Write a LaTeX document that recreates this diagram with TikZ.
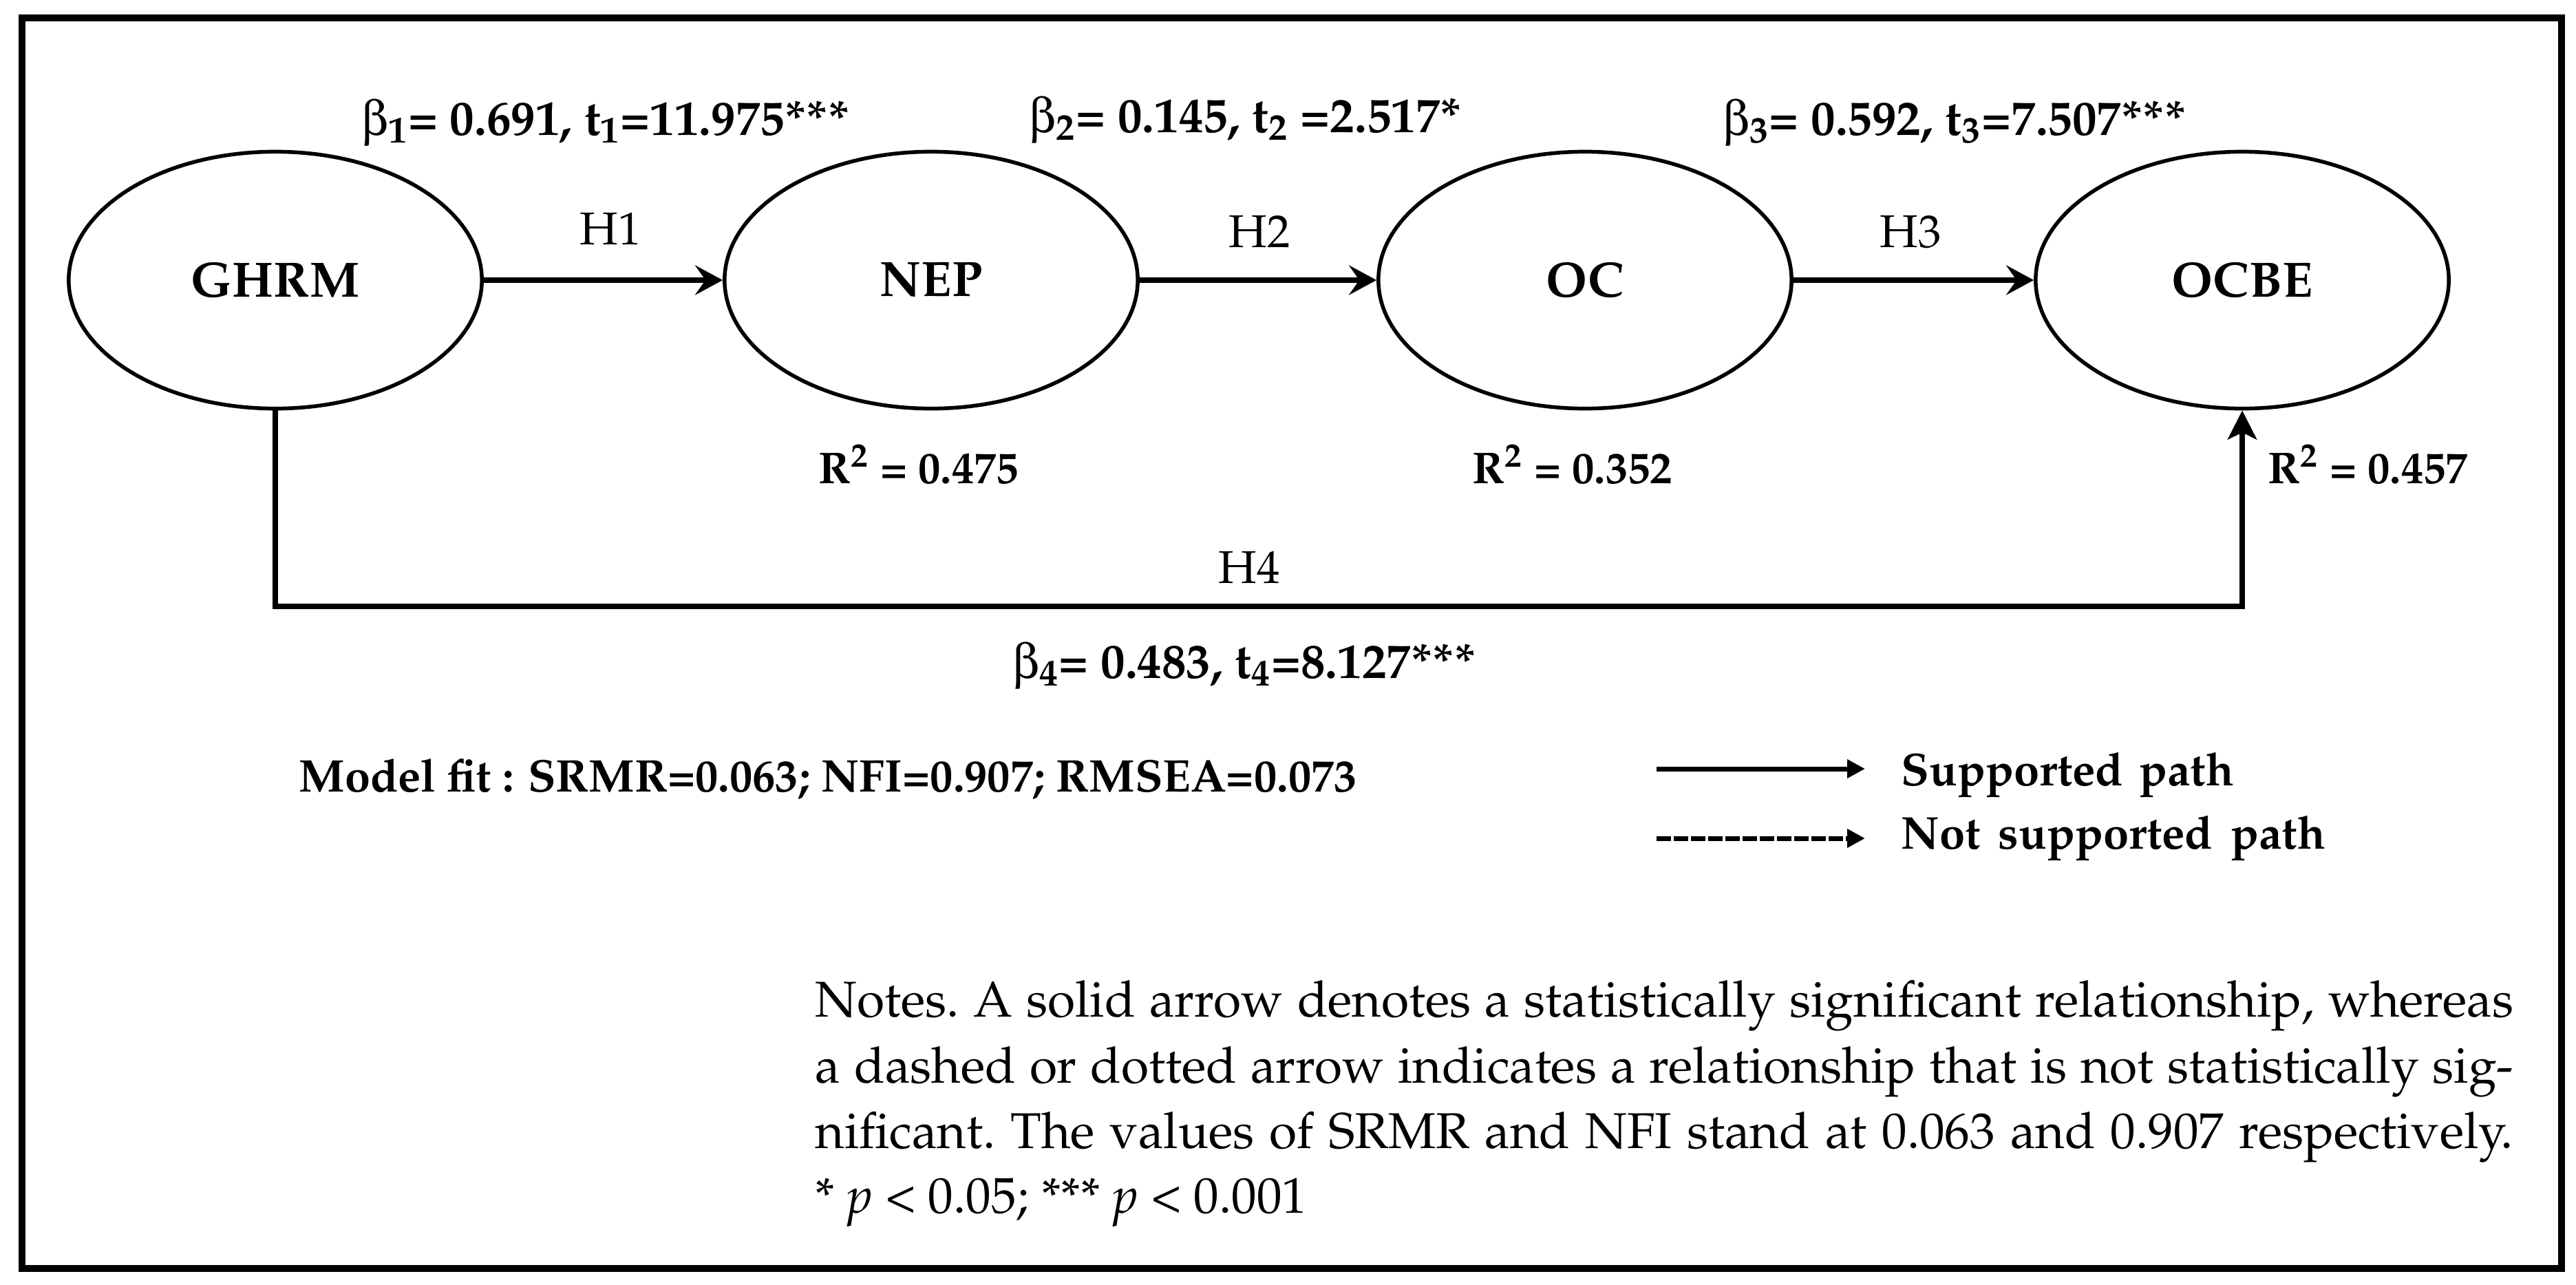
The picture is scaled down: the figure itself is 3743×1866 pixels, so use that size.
\documentclass[tikz,border=0pt]{standalone}
\usepackage[T1]{fontenc}
\usepackage{mathpazo}
\usepackage{pifont}
\usetikzlibrary{arrows.meta,shapes.geometric}
\newcommand\setfs[1]{\fontsize{#1pt}{#1pt}\selectfont}
\newcommand\bet{{\Pisymbol{psy}{98}}}
\tikzset{
  latent/.style={ellipse, draw, line width=0.055cm, minimum width=6cm, minimum height=3.73cm, inner sep=0pt, font=\setfs{20.5}\bfseries},
  conn/.style={line width=0.08cm, -{Stealth[length=0.4cm,width=0.43cm,inset=0.15cm]}},
  hfour/.style={line width=0.075cm, line join=miter, -{Stealth[length=0.42cm,width=0.42cm,inset=0.1cm]}},
  coef/.style={inner sep=0pt, anchor=base, font=\setfs{20.2}\bfseries},
  hyp/.style={inner sep=0pt, anchor=base, font=\setfs{19}},
  rsq/.style={inner sep=0pt, anchor=base, font=\setfs{18.4}\bfseries},
  fitst/.style={inner sep=0pt, anchor=base west, font=\setfs{18.9}\bfseries},
  legtxt/.style={inner sep=0pt, anchor=base west, font=\setfs{19}\bfseries},
  legarrow/.style={line width=0.07cm, -{Triangle[length=0.26cm,width=0.26cm]}},
  notes/.style={inner sep=0pt, anchor=base west, font=\setfs{20.8}\frenchspacing}
}
\begin{document}
\begin{tikzpicture}[x=0.01cm,y=-0.01cm]
\useasboundingbox (0,0) rectangle (3743,1866);
\draw[line width=0.095cm] (32,26) rectangle (3722,1843);

\node[latent] (g) at (400,407) {GHRM};
\node[latent] (n) at (1353,407) {NEP};
\node[latent] (o) at (2303,407) {OC};
\node[latent] (b) at (3258,407) {OCBE};

\draw[conn] (g.east) -- (n.west);
\draw[conn] (n.east) -- (o.west);
\draw[conn] (o.east) -- (b.west);
\coordinate (c1) at (400,881);
\coordinate (c2) at (3258,881);
\draw[hfour] (g.south) -- (c1) -- (c2) -- (b.south);

\node[coef] (l1) at (880,196) {\bet\textsubscript{1}= 0.691, t\textsubscript{1}=11.975***};
\node[coef] (l2) at (1810,192) {\bet\textsubscript{2}= 0.145, t\textsubscript{2} =2.517*};
\node[coef] (l3) at (2840,196) {\bet\textsubscript{3}= 0.592, t\textsubscript{3}=7.507***};
\node[coef] (l4) at (1808,985) {\bet\textsubscript{4}= 0.483, t\textsubscript{4}=8.127***};

\node[hyp] (h1) at (887,355) {H1};
\node[hyp] (h2) at (1830,359) {H2};
\node[hyp] (h3) at (2776,359) {H3};
\node[hyp] (h4) at (1815,847) {H4};

\node[rsq] (r1) at (1335,702) {R\textsuperscript{2} = 0.475};
\node[rsq] (r2) at (2285,702) {R\textsuperscript{2} = 0.352};
\node[rsq] (r3) at (3441,702) {R\textsuperscript{2} = 0.457};

\node[fitst] (fit) at (434,1150) {Model fit : SRMR=0.063; NFI=0.907; RMSEA=0.073};

\coordinate (s1) at (2407,1117);
\coordinate (s2) at (2710,1117);
\coordinate (d1) at (2407,1218);
\coordinate (d2) at (2710,1218);
\draw[legarrow] (s1) -- (s2);
\draw[legarrow, dash pattern=on 0.21cm off 0.04cm] (d1) -- (d2);
\node[legtxt] (t1) at (2762,1141) {\makebox[4.83cm][s]{Supported path}};
\node[legtxt] (t2) at (2762,1233) {\makebox[6.16cm][s]{Not supported path}};

\node[notes] (n1) at (1184,1477) {\makebox[24.66cm][s]{Notes. A solid arrow denotes a statistically significant relationship, whereas}};
\node[notes] (n2) at (1184,1573) {\makebox[24.66cm][s]{a dashed or dotted arrow indicates a relationship that is not statistically sig-}};
\node[notes] (n3) at (1184,1668) {\makebox[24.66cm][s]{nificant. The values of SRMR and NFI stand at 0.063 and 0.907 respectively.}};
\node[notes] (n4) at (1184,1762) {* \textit{p} \textless{} 0.05; *** \textit{p} \textless{} 0.001};
\end{tikzpicture}
\end{document}
